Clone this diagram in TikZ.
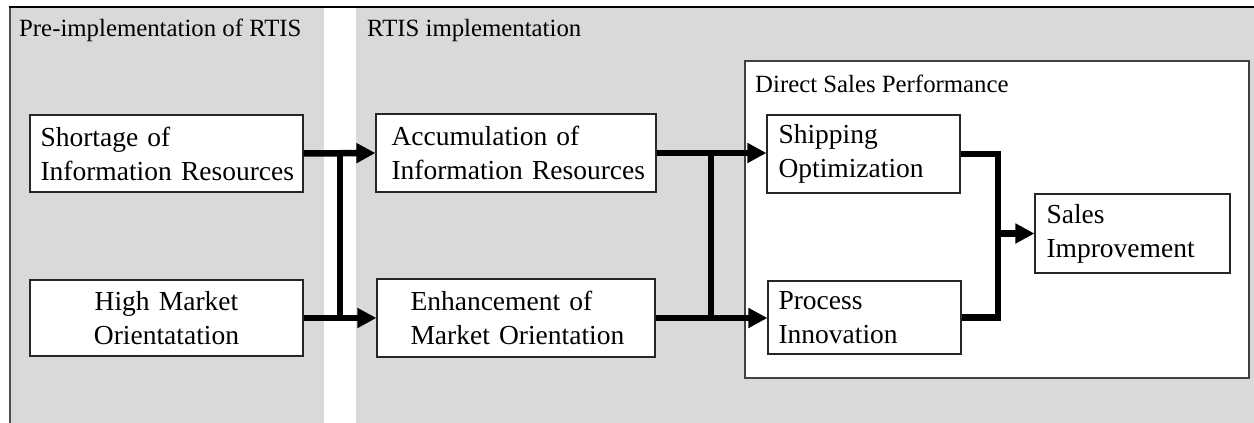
\documentclass[tikz,border=0pt]{standalone}
\usepackage{fontspec}
\setmainfont{Liberation Serif}
\usetikzlibrary{arrows.meta}
\definecolor{panelgray}{RGB}{217,217,217}
\newcommand{\ind}[1]{\leavevmode\hspace*{#1}}
\tikzset{
  box/.style={draw=black!85, line width=1.2pt, fill=white, inner ysep=0pt, inner xsep=1pt,
    font=\fontsize{27.5}{34}\selectfont, align=left},
  lbl/.style={anchor=base west, inner sep=0pt, font=\fontsize{24.8}{30}\selectfont},
  flow/.style={line width=6.5pt, -{Triangle[length=19pt,width=19pt]}},
  bar/.style={line width=6.5pt},
}
\begin{document}
\begin{tikzpicture}[x=1pt,y=-1pt]
\useasboundingbox (0,0) rectangle (1254,423);
% panels
\fill[panelgray] (10,7) rectangle (324,423);
\fill[panelgray] (356,7) rectangle (1254,423);
\draw[black!70, line width=1.3pt] (10,423) -- (10,7);
\draw[black, line width=1.8pt] (9.4,7) -- (1254,7);
\node[lbl] (plabel1) at (19,36) {Pre-implementation of RTIS};
\node[lbl] (plabel2) at (367,36) {RTIS implementation};
% direct sales performance frame
\node[draw=black!75, line width=1.3pt, fill=white, minimum width=504pt, minimum height=317pt, inner sep=0pt] (dsp) at (997,219.5) {};
\node[lbl] (dsplabel) at (755,92) {Direct Sales Performance};
% boxes
\node[box, minimum width=273pt, minimum height=77pt, text width=270pt] (short) at (166.5,153.5) {\ind{9pt}Shortage of\\\relax\ind{9pt}Information Resources};
\node[box, minimum width=273pt, minimum height=76pt, text width=270pt, align=center] (high) at (166.5,318) {High Market\\Orientatation};
\node[box, minimum width=280pt, minimum height=78pt, text width=277pt] (acc) at (516,153) {\ind{14pt}Accumulation of\\\relax\ind{14pt}Information Resources};
\node[box, minimum width=278pt, minimum height=78pt, text width=275pt] (enh) at (516,318) {\ind{32pt}Enhancement of\\\relax\ind{32pt}Market Orientation};
\node[box, minimum width=193pt, minimum height=78pt, text width=190pt] (ship) at (863.5,154) {\ind{10pt}Shipping\\\relax\ind{10pt}Optimization};
\node[box, minimum width=193pt, minimum height=73pt, text width=190pt] (proc) at (864.5,317.5) {\ind{9pt}Process\\\relax\ind{9pt}Innovation};
\node[box, minimum width=195pt, minimum height=79pt, text width=192pt] (sales) at (1132.5,233.5) {\ind{10pt}Sales\\\relax\ind{10pt}Improvement};
% junction coordinates
\coordinate (j1t) at (340,153);
\coordinate (j1b) at (340,318);
\coordinate (j2t) at (711,153);
\coordinate (j2b) at (711,318);
\coordinate (j3t) at (998,154);
\coordinate (j3b) at (998,317.5);
\coordinate (j3m) at (998,233.5);
% connectors
\draw[flow] (short.east) -- (acc.west);
\draw[flow] (high.east) -- (enh.west);
\draw[bar] (j1t) -- (j1b);
\draw[flow] (acc.east) -- (ship.west |- acc.east);
\draw[flow] (enh.east) -- (proc.west |- enh.east);
\draw[bar] (j2t) -- (j2b);
\draw[bar, line join=miter] (ship.east) -- (j3t) -- (j3b) -- (proc.east);
\draw[flow] (j3m) -- (sales.west);
\end{tikzpicture}
\end{document}
